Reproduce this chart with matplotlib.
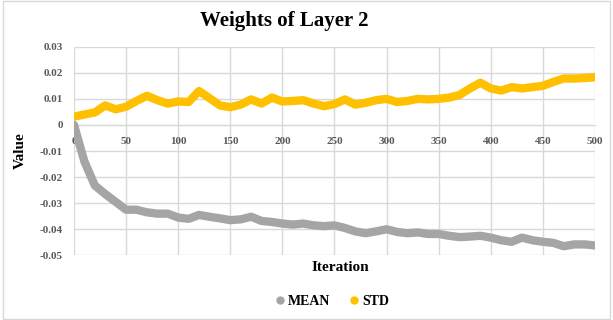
#!/usr/bin/env python3
import numpy as np
import matplotlib
matplotlib.use("Agg")
import matplotlib.pyplot as plt
from matplotlib.patches import Rectangle
from matplotlib.lines import Line2D

# values, every 10 iterations
iterations = list(range(0, 501, 10))
mean_vals = [0.0, -0.0140, -0.0232, -0.0265, -0.0295, -0.0325, -0.0325, -0.0335, -0.0340, -0.0340,
             -0.0355, -0.0360, -0.0345, -0.0352, -0.0358, -0.0365, -0.0362, -0.0352, -0.0368, -0.0372,
             -0.0378, -0.0382, -0.0378, -0.0385, -0.0388, -0.0385, -0.0395, -0.0408, -0.0415, -0.0408,
             -0.0400, -0.0410, -0.0415, -0.0412, -0.0418, -0.0418, -0.0425, -0.0430, -0.0428, -0.0425,
             -0.0432, -0.0442, -0.0448, -0.0432, -0.0442, -0.0448, -0.0452, -0.0465, -0.0458, -0.0458,
             -0.0462]
std_vals = [0.0032, 0.0040, 0.0048, 0.0075, 0.0060, 0.0070, 0.0092, 0.0112, 0.0095, 0.0082,
            0.0090, 0.0088, 0.0130, 0.0103, 0.0075, 0.0068, 0.0078, 0.0098, 0.0082, 0.0105,
            0.0090, 0.0092, 0.0095, 0.0082, 0.0072, 0.0080, 0.0098, 0.0078, 0.0085, 0.0095,
            0.0100, 0.0088, 0.0092, 0.0100, 0.0098, 0.0100, 0.0105, 0.0115, 0.0140, 0.0162,
            0.0140, 0.0132, 0.0145, 0.0140, 0.0145, 0.0150, 0.0165, 0.0178, 0.0178, 0.0180,
            0.0183]
x_ticks = list(range(0, 501, 50))
y_ticks = [-0.05, -0.04, -0.03, -0.02, -0.01, 0, 0.01, 0.02, 0.03]
y_tick_labels = ["-0.05", "-0.04", "-0.03", "-0.02", "-0.01", "0", "0.01", "0.02", "0.03"]

MEAN_COLOR = "#A5A5A5"
STD_COLOR = "#FFC000"
GRID = "#D9D9D9"
TEXT = "#595959"

plt.rcParams['font.family'] = ['Liberation Serif', 'DejaVu Serif']
plt.rcParams['font.weight'] = 'bold'

fig = plt.figure(figsize=(6.13, 3.20), dpi=100)
ax = fig.add_axes([0.1207, 0.202, 0.8499, 0.652])

ax.plot(iterations, mean_vals, color=MEAN_COLOR, lw=6, solid_capstyle='round',
        solid_joinstyle='round', zorder=3)
ax.plot(iterations, std_vals, color=STD_COLOR, lw=6, solid_capstyle='round',
        solid_joinstyle='round', zorder=3)

ax.set_xlim(0, 500)
ax.set_ylim(-0.05, 0.03)
ax.set_xticks(x_ticks)
ax.set_yticks(y_ticks)
ax.set_yticklabels(y_tick_labels)
ax.grid(True, color=GRID, lw=1)
ax.set_axisbelow(True)

for s in ['top', 'right', 'left']:
    ax.spines[s].set_visible(False)
ax.spines['bottom'].set_position(('data', 0))
ax.spines['bottom'].set_color(GRID)
ax.tick_params(axis='both', length=0, labelsize=8, labelcolor=TEXT)
ax.tick_params(axis='x', pad=9)
ax.tick_params(axis='y', pad=8)

fig.text(0.464, 0.935, "Weights of Layer 2", ha='center', va='center', fontsize=15, fontweight='bold')
fig.text(0.033, 0.53, "Value", ha='center', va='center', rotation=90, fontsize=11, fontweight='bold')
fig.text(0.556, 0.165, "Iteration", ha='center', va='center', fontsize=11, fontweight='bold')

handles = [Line2D([], [], ls='', marker='o', ms=5, color=MEAN_COLOR),
           Line2D([], [], ls='', marker='o', ms=5, color=STD_COLOR)]
fig.legend(handles, ["MEAN", "STD"], loc='center', bbox_to_anchor=(0.54, 0.057), ncol=2,
           frameon=False, prop={'size': 10, 'weight': 'bold'}, handletextpad=0.1,
           columnspacing=1.2, handlelength=1.0)

fig.patches.append(Rectangle((0.005, 0.004), 0.99, 0.992, transform=fig.transFigure,
                             fill=False, edgecolor=GRID, lw=1))

fig.savefig("out.png", dpi=100)
